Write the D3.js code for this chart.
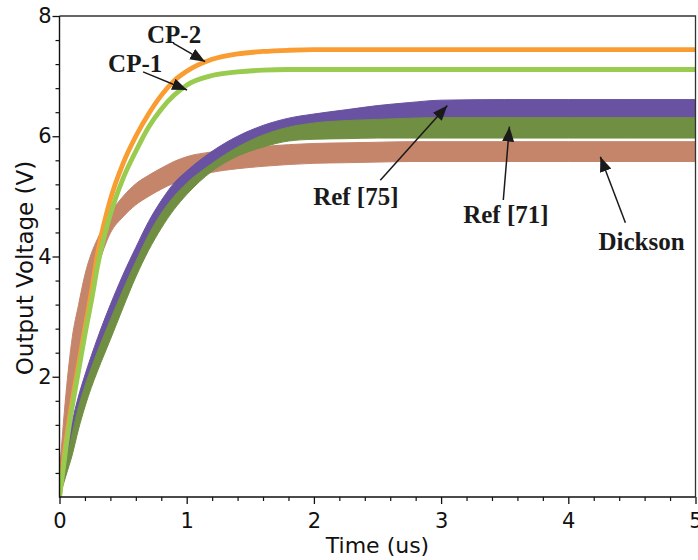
<!DOCTYPE html>
<html>
<head>
<meta charset="utf-8">
<script src="https://cdn.jsdelivr.net/npm/d3@7"></script>
<style>
  html, body { margin: 0; padding: 0; background: #fff; }
  svg { display: block; }
</style>
</head>
<body>
<svg id="chart" width="698" height="560"></svg>
<script>
// ---- data ----
const time = [0, 0.05, 0.1, 0.15, 0.2, 0.25, 0.3, 0.4, 0.5, 0.6, 0.7, 0.8, 0.9, 1.0, 1.2, 1.4, 1.6, 1.8, 2.0, 2.25, 2.5, 2.75, 3.0, 3.5, 4.0, 4.5, 5.0];

const cp2 = [0, 0.9, 1.6, 2.2, 2.8, 3.4, 4.05, 4.95, 5.55, 6.0, 6.37, 6.68, 6.92, 7.08, 7.28, 7.37, 7.41, 7.43, 7.44, 7.44, 7.44, 7.44, 7.44, 7.44, 7.44, 7.44, 7.44];
const cp1 = [0, 0.8, 1.5, 2.1, 2.7, 3.25, 3.85, 4.7, 5.3, 5.75, 6.15, 6.45, 6.68, 6.85, 7.01, 7.07, 7.10, 7.11, 7.11, 7.11, 7.11, 7.11, 7.11, 7.11, 7.11, 7.11, 7.11];

const dicksonHi = [0.4, 1.7, 2.65, 3.2, 3.7, 4.05, 4.3, 4.72, 5.0, 5.21, 5.35, 5.47, 5.58, 5.66, 5.74, 5.79, 5.83, 5.86, 5.88, 5.89, 5.90, 5.91, 5.91, 5.91, 5.91, 5.91, 5.91];
const dicksonLo = [0, 0.5, 1.4, 2.4, 3.0, 3.5, 3.83, 4.39, 4.66, 4.86, 5.0, 5.12, 5.22, 5.29, 5.40, 5.46, 5.50, 5.53, 5.55, 5.56, 5.57, 5.58, 5.58, 5.58, 5.58, 5.58, 5.58];

const ref75Hi = [0, 0.7, 1.25, 1.68, 2.03, 2.35, 2.65, 3.2, 3.7, 4.15, 4.58, 4.93, 5.22, 5.42, 5.75, 6.0, 6.18, 6.3, 6.37, 6.44, 6.51, 6.56, 6.6, 6.61, 6.61, 6.61, 6.61];
const ref75Lo = [0, 0.5, 1.0, 1.45, 1.8, 2.07, 2.37, 2.9, 3.4, 3.87, 4.33, 4.7, 4.95, 5.15, 5.5, 5.77, 5.97, 6.1, 6.17, 6.22, 6.25, 6.27, 6.28, 6.28, 6.28, 6.28, 6.28];

const ref71Hi = [0, 0.55, 1.05, 1.5, 1.85, 2.15, 2.43, 2.95, 3.45, 3.92, 4.36, 4.72, 5.0, 5.22, 5.55, 5.82, 6.02, 6.15, 6.22, 6.26, 6.28, 6.3, 6.31, 6.31, 6.31, 6.31, 6.31];
const ref71Lo = [0, 0.35, 0.7, 1.13, 1.5, 1.82, 2.1, 2.62, 3.15, 3.66, 4.1, 4.47, 4.78, 5.03, 5.42, 5.67, 5.82, 5.92, 5.95, 5.96, 5.97, 5.97, 5.97, 5.97, 5.97, 5.97, 5.97];

const xTicks = [0, 1, 2, 3, 4, 5];
const yTicks = [2, 4, 6, 8];
const xTickLabels = ["0", "1", "2", "3", "4", "5"];
const yTickLabels = ["2", "4", "6", "8"];

const labelNames = ["CP-2", "CP-1", "Ref [75]", "Ref [71]", "Dickson"];
const labelT = [0.688, 0.382, 1.994, 3.174, 4.237];
const labelV = [7.55, 7.07, 4.86, 4.56, 4.11];
const arrowFromT = [0.893, 0.657, 2.522, 3.489, 4.449];
const arrowFromV = [7.55, 7.07, 5.27, 4.94, 4.56];
const arrowToT = [1.145, 1.003, 3.049, 3.537, 4.252];
const arrowToV = [7.24, 6.77, 6.51, 6.16, 5.66];

// ---- layout ----
const svg = d3.select("#chart");
const x = d3.scaleLinear().domain([0, 5]).range([59.5, 695.5]);
const y = d3.scaleLinear().domain([0, 8]).range([497, 16]);

const defs = svg.append("defs");
defs.append("clipPath").attr("id", "plotclip")
  .append("rect")
  .attr("x", x(0)).attr("y", y(8))
  .attr("width", x(5) - x(0)).attr("height", y(0) - y(8));

defs.append("marker")
  .attr("id", "arrowhead")
  .attr("markerUnits", "userSpaceOnUse")
  .attr("viewBox", "0 0 15 12")
  .attr("refX", 15).attr("refY", 6)
  .attr("markerWidth", 15).attr("markerHeight", 12)
  .attr("orient", "auto")
  .append("path")
  .attr("d", "M0,0 L15,6 L0,12 Z")
  .attr("fill", "#1a1a1a");

const plot = svg.append("g").attr("clip-path", "url(#plotclip)");

const bands = [
  { hi: dicksonHi, lo: dicksonLo, color: "#C4856A" },
  { hi: ref75Hi, lo: ref75Lo, color: "#6852A1" },
  { hi: ref71Hi, lo: ref71Lo, color: "#708F42" }
];

const area = d3.area()
  .x(d => x(d.t))
  .y0(d => y(d.lo))
  .y1(d => y(d.hi))
  .curve(d3.curveMonotoneX);

bands.forEach(b => {
  const pts = time.map((t, i) => ({ t, hi: b.hi[i], lo: b.lo[i] }));
  plot.append("path")
    .datum(pts)
    .attr("d", area)
    .attr("fill", b.color)
    .attr("stroke", b.color)
    .attr("stroke-width", 1);
});

const lines = [
  { v: cp2, color: "#F99D33" },
  { v: cp1, color: "#98CB4E" }
];
const line = d3.line()
  .x(d => x(d.t))
  .y(d => y(d.v))
  .curve(d3.curveMonotoneX);

lines.forEach(s => {
  const pts = time.map((t, i) => ({ t, v: s.v[i] }));
  plot.append("path")
    .datum(pts)
    .attr("d", line)
    .attr("fill", "none")
    .attr("stroke", s.color)
    .attr("stroke-width", 4.8);
});

// ---- axes ----
const tickFont = "'DejaVu Sans', Verdana, sans-serif";
const xMinor = d3.range(0, 5.001, 0.2).filter(v => Math.abs(v - Math.round(v)) > 1e-6);
const yMinor = d3.range(0, 8.001, 0.4).filter(v => Math.abs(v / 2 - Math.round(v / 2)) > 1e-6);

const gx = svg.append("g").attr("transform", `translate(0,${y(0)})`)
  .call(d3.axisBottom(x).tickValues(xTicks).tickSize(7).tickPadding(9)
    .tickFormat((d, i) => xTickLabels[i]));
gx.select(".domain").remove();
gx.selectAll(".tick line").attr("stroke", "#111").attr("stroke-width", 1.3);
gx.selectAll(".tick text").attr("font-family", tickFont).attr("font-size", 21).attr("fill", "#111");

const gxm = svg.append("g").attr("transform", `translate(0,${y(0)})`)
  .call(d3.axisBottom(x).tickValues(xMinor).tickSize(4).tickFormat(""));
gxm.select(".domain").remove();
gxm.selectAll(".tick line").attr("stroke", "#111").attr("stroke-width", 1.2);

const gy = svg.append("g").attr("transform", `translate(${x(0)},0)`)
  .call(d3.axisLeft(y).tickValues(yTicks).tickSize(7).tickPadding(1)
    .tickFormat((d, i) => yTickLabels[i]));
gy.select(".domain").remove();
gy.selectAll(".tick line").attr("stroke", "#111").attr("stroke-width", 1.3);
gy.selectAll(".tick text").attr("font-family", tickFont).attr("font-size", 21).attr("fill", "#111");

const gym = svg.append("g").attr("transform", `translate(${x(0)},0)`)
  .call(d3.axisLeft(y).tickValues(yMinor).tickSize(4).tickFormat(""));
gym.select(".domain").remove();
gym.selectAll(".tick line").attr("stroke", "#111").attr("stroke-width", 1.2);

// frame
svg.append("path")
  .attr("d", `M${x(0)},${y(8)} L${x(5)},${y(8)} L${x(5)},${y(0)}`)
  .attr("fill", "none").attr("stroke", "#333").attr("stroke-width", 1.3);
svg.append("path")
  .attr("d", `M${x(0)},${y(8)} L${x(0)},${y(0)} L${x(5)},${y(0)}`)
  .attr("fill", "none").attr("stroke", "#111").attr("stroke-width", 1.4);

// axis titles
svg.append("text")
  .attr("x", (x(0) + x(5)) / 2).attr("y", 553)
  .attr("text-anchor", "middle")
  .attr("font-family", tickFont).attr("font-size", 22).attr("fill", "#111")
  .text("Time (us)");
svg.append("text")
  .attr("transform", `translate(33,268) rotate(-90)`)
  .attr("text-anchor", "middle")
  .attr("font-family", tickFont).attr("font-size", 23).attr("fill", "#111")
  .text("Output Voltage (V)");

// ---- annotations ----
const ann = svg.append("g");
labelNames.forEach((name, i) => {
  ann.append("line")
    .attr("x1", x(arrowFromT[i])).attr("y1", y(arrowFromV[i]))
    .attr("x2", x(arrowToT[i])).attr("y2", y(arrowToV[i]))
    .attr("stroke", "#1a1a1a").attr("stroke-width", 1.5)
    .attr("marker-end", "url(#arrowhead)");
  ann.append("text")
    .attr("x", x(labelT[i])).attr("y", y(labelV[i]))
    .attr("font-family", "'Liberation Serif', 'Times New Roman', serif")
    .attr("font-weight", "bold").attr("font-size", 25).attr("fill", "#1a1a1a")
    .text(name);
});
</script>
</body>
</html>
